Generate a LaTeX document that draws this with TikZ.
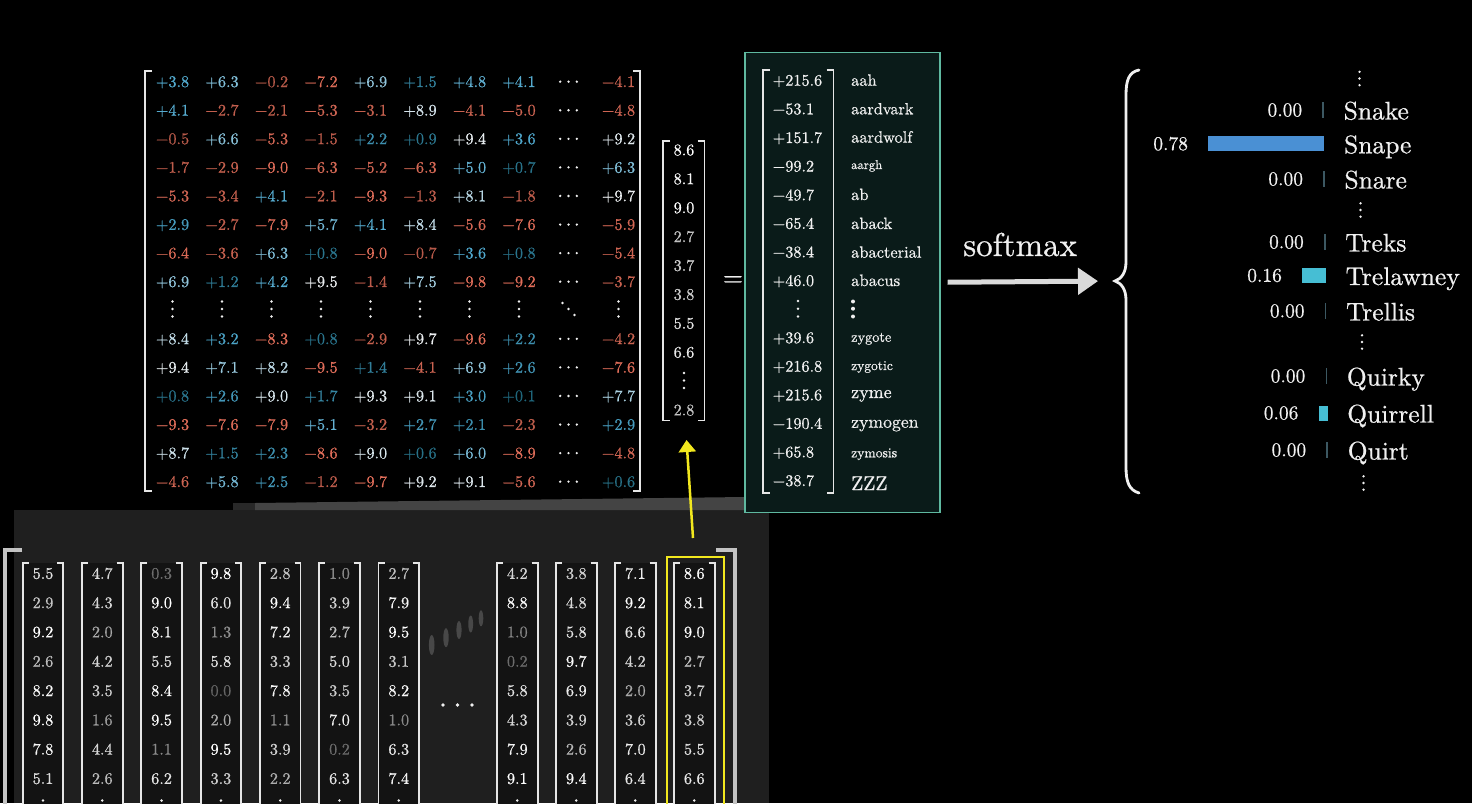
\documentclass[tikz,border=0pt]{standalone}
\usepackage{fontspec}
\setmainfont{lmroman10-regular}[Extension=.otf, FakeBold=0.7]
\usetikzlibrary{arrows.meta}
\definecolor{pc0}{RGB}{30,100,120}
\definecolor{pc1}{RGB}{80,168,205}
\definecolor{pc2}{RGB}{235,238,240}
\definecolor{negc}{RGB}{225,110,90}
\definecolor{brk}{RGB}{230,230,230}
\definecolor{txt}{RGB}{240,240,240}
\definecolor{boxedge}{RGB}{95,185,160}
\definecolor{boxfill}{RGB}{10,27,25}
\definecolor{snapec}{RGB}{74,144,212}
\definecolor{cyanbar}{RGB}{70,190,212}
\definecolor{tickc}{RGB}{60,88,98}
\definecolor{panelc}{RGB}{31,31,31}
\definecolor{colbg}{RGB}{19,19,19}
\definecolor{bandc}{RGB}{68,68,68}
\definecolor{bandd}{RGB}{40,40,40}
\definecolor{outerbr}{RGB}{195,195,195}
\definecolor{ghost}{RGB}{72,72,72}
\definecolor{yel}{RGB}{242,232,30}
\definecolor{arrowc}{RGB}{218,218,218}
\newcommand\entcol[1]{%
  \pgfmathsetmacro\vv{0#1}%
  \ifdim\vv pt<0pt
    \pgfmathtruncatemacro\pp{min(100,80+2.5*abs(\vv))}%
    \colorlet{cc}{negc!\pp!black}%
  \else
    \ifdim\vv pt<3.5pt
      \pgfmathtruncatemacro\pp{100*\vv/3.5}%
      \colorlet{cc}{pc1!\pp!pc0}%
    \else
      \pgfmathtruncatemacro\pp{100*(min(1,(\vv-3.5)/6))^1.5}%
      \colorlet{cc}{pc2!\pp!pc1}%
    \fi
  \fi}
\newcommand\graycol[1]{%
  \pgfmathtruncatemacro\pp{(#1)<3 ? 40+13*(#1) : min(100,79+3.6*((#1)-3))}%
  \colorlet{cc}{white!\pp!black}}
\def\sgnaux#1#2\relax{\if#1-−\else#1\fi#2}
\newcommand\shownum[1]{\expandafter\sgnaux#1\relax}
\begin{document}
\begin{tikzpicture}[x=1pt,y=-1pt,
  num/.style={font=\fontsize{16.2}{19}\selectfont, inner sep=0pt, anchor=base},
  onum/.style={font=\fontsize{16.2}{19}\selectfont, inner sep=0pt, anchor=base west, text=txt},
  word/.style={inner sep=0pt, anchor=base west, text=txt},
  pnum/.style={font=\fontsize{19.5}{23}\selectfont, inner sep=0pt, anchor=base east, text=txt},
  pword/.style={font=\fontsize{25.5}{30}\selectfont, inner sep=0pt, anchor=base west, text=txt},
  brkline/.style={draw=brk, line width=1.8pt},
  dotf/.style={fill=txt}]
\useasboundingbox (0,0) rectangle (1472,803);
\fill[black] (0,0) rectangle (1472,803);
\clip (0,0) rectangle (1472,803);

% ---------- bottom panel (stack of columns) ----------
\fill[panelc] (14,510) rectangle (769,803);
\fill[bandd] (233,503) rectangle (745,510);
\fill[bandc] (255,503) -- (745,497) -- (745,510) -- (255,510) -- cycle;
\draw[outerbr, line width=4pt] (22,550) -| (5,810);
\draw[outerbr, line width=4pt] (716,550) -| (735,810);

\foreach \colvals [count=\k] in {
 {5.5,2.9,9.2,2.6,8.2,9.8,7.8,5.1},
 {4.7,4.3,2.0,4.2,3.5,1.6,4.4,2.6},
 {0.3,9.0,8.1,5.5,8.4,9.5,1.1,6.2},
 {9.8,6.0,1.3,5.8,0.0,2.0,9.5,3.3},
 {2.8,9.4,7.2,3.3,7.8,1.1,3.9,2.2},
 {1.0,3.9,2.7,5.0,3.5,7.0,0.2,6.3},
 {2.7,7.9,9.5,3.1,8.2,1.0,6.3,7.4},
 {4.2,8.8,1.0,0.2,5.8,4.3,7.9,9.1},
 {3.8,4.8,5.8,9.7,6.9,3.9,2.6,9.4},
 {7.1,9.2,6.6,4.2,2.0,3.6,7.0,6.4},
 {8.6,8.1,9.0,2.7,3.7,3.8,5.5,6.6}} {
  \pgfmathsetmacro\xl{\k<8 ? 22.7+59.3*(\k-1) : 497+59*(\k-8)}
  \pgfmathsetmacro\xr{\xl+40.6}
  \pgfmathsetmacro\xc{\xl+20.3}
  \fill[colbg] (\xl,563) rectangle (\xr,810);
  \draw[brkline] (\xl+6,563) -| (\xl,812);
  \draw[brkline] (\xr-6,563) -| (\xr,812);
  \foreach \v [count=\r] in \colvals {
    \node[num] (c-\k-\r) at (\xc,{573.5+29.3*(\r-1)+5.3}) {\graycol{\v}\color{cc}\v};
  }
  \foreach \dy in {-7.5,0,7.5} \fill[dotf] (\xc,808+\dy) circle[radius=1.4pt];
}
% yellow highlight around last column
\node[draw=yel, line width=2pt, inner sep=0pt, minimum width=57pt, minimum height=260pt, anchor=north west] (ybox) at (666,556) {};
% horizontal dots and ghost dots
\foreach \xx in {443,457.5,472} \fill[dotf] (\xx,705) circle[radius=1.8pt];
\fill[ghost] (431.7,645) ellipse[x radius=2.8pt, y radius=10pt];
\fill[ghost] (446,637.7) ellipse[x radius=2.7pt, y radius=9.5pt];
\fill[ghost] (459,630) ellipse[x radius=2.6pt, y radius=9pt];
\fill[ghost] (470.7,624) ellipse[x radius=2.4pt, y radius=8.5pt];
\fill[ghost] (481,618.3) ellipse[x radius=2.3pt, y radius=8pt];

% ---------- main matrix ----------
\draw[brkline] (152,71) -| (145,491) -- (152,491);
\draw[brkline] (633,71) -| (640,491) -- (633,491);
\foreach \rowvals [count=\i] in {
 {+3.8,+6.3,-0.2,-7.2,+6.9,+1.5,+4.8,+4.1,-4.1},
 {+4.1,-2.7,-2.1,-5.3,-3.1,+8.9,-4.1,-5.0,-4.8},
 {-0.5,+6.6,-5.3,-1.5,+2.2,+0.9,+9.4,+3.6,+9.2},
 {-1.7,-2.9,-9.0,-6.3,-5.2,-6.3,+5.0,+0.7,+6.3},
 {-5.3,-3.4,+4.1,-2.1,-9.3,-1.3,+8.1,-1.8,+9.7},
 {+2.9,-2.7,-7.9,+5.7,+4.1,+8.4,-5.6,-7.6,-5.9},
 {-6.4,-3.6,+6.3,+0.8,-9.0,-0.7,+3.6,+0.8,-5.4},
 {+6.9,+1.2,+4.2,+9.5,-1.4,+7.5,-9.8,-9.2,-3.7},
 {+8.4,+3.2,-8.3,+0.8,-2.9,+9.7,-9.6,+2.2,-4.2},
 {+9.4,+7.1,+8.2,-9.5,+1.4,-4.1,+6.9,+2.6,-7.6},
 {+0.8,+2.6,+9.0,+1.7,+9.3,+9.1,+3.0,+0.1,+7.7},
 {-9.3,-7.6,-7.9,+5.1,-3.2,+2.7,+2.1,-2.3,+2.9},
 {+8.7,+1.5,+2.3,-8.6,+9.0,+0.6,+6.0,-8.9,-4.8},
 {-4.6,+5.8,+2.5,-1.2,-9.7,+9.2,+9.1,-5.6,+0.6}} {
  \pgfmathtruncatemacro\rr{\i>8 ? \i+1 : \i}
  \pgfmathsetmacro\yc{81.7+28.57*(\rr-1)}
  \foreach \v [count=\j] in \rowvals {
    \pgfmathsetmacro\xx{\j<9 ? 172.5+49.5*(\j-1) : 618.5}
    \node[num] (m-\i-\j) at (\xx,\yc+5.3) {\entcol{\v}\color{cc}\shownum{\v}};
  }
  \foreach \dx in {-8.3,0,8.3} \fill[dotf] (568.5+\dx,\yc) circle[radius=1.3pt];
}
% vdots row
\foreach \xx in {172.5,222,271.5,321,370.5,420,469.5,519,618.5}
  \foreach \dy in {-7.5,0,7.5} \fill[dotf] (\xx,309+\dy) circle[radius=1.3pt];
\foreach \d in {-6,0,6} \fill[dotf] (568.5+\d,309+\d) circle[radius=1.3pt];

% ---------- vector ----------
\node[inner sep=0pt, minimum width=42pt, minimum height=280pt] (vec) at (684,281) {};
\draw[brkline] (670,141) -| (663,420.5) -- (670,420.5);
\draw[brkline] (697.5,141) -| (704.5,420.5) -- (697.5,420.5);
\foreach \v/\k in {8.6/1,8.1/2,9.0/3,2.7/4,3.7/5,3.8/6,5.5/7,6.6/8,2.8/10} {
  \node[num] (v-\k) at (684,{150+28.9*(\k-1)+5.3}) {\graycol{\v}\color{cc}\v};
}
\foreach \yy in {373,380.5,388} \fill[dotf] (684,\yy) circle[radius=1.3pt];

% equals
\node[inner sep=0pt, text=txt, font=\fontsize{26}{30}\selectfont] (eq) at (733,281) {=};

% ---------- output box ----------
\node[draw=boxedge, fill=boxfill, line width=1.6pt, inner sep=0pt, minimum width=195pt, minimum height=460pt, anchor=north west] (outbox) at (744,51.5) {};
\draw[brkline] (770,70) -| (763,493) -- (770,493);
\draw[brkline] (826.5,70) -| (833.5,493) -- (826.5,493);
\foreach \n/\yb [count=\k] in {+215.6/85.7,-53.1/114.3,+151.7/143,-99.2/171.5,-49.7/200.3,-65.4/228.8,-38.4/257.4,+46.0/286,+39.6/343.1,+216.8/371.7,+215.6/400.3,-190.4/428.8,+65.8/457.4,-38.7/486}
  \node[onum] (o-\k) at (772.5,\yb) {\shownum{\n}};
\foreach \yy in {301,308.7,316.5} \fill[dotf] (798,\yy) circle[radius=1.4pt];
\foreach \w/\yb/\fs in {aah/85.7/16.4,aardvark/114.3/16.2,aardwolf/142.6/16.4,aargh/169/12.7,ab/200/16.4,aback/229/16.4,abacterial/257.7/16.4,abacus/286/16.6,zygote/341.7/14.3,zygotic/370/13.5,zyme/398/18,zymogen/427.7/17.7,zymosis/457.3/13.6,ZZZ/490/19.8}
  \node[word, font={\fontsize{\fs}{\fs}\selectfont}] (w-\w) at (851,\yb) {\w};
\foreach \yy in {301.5,308.7,316.5} \fill[dotf] (853,\yy) circle[radius=2pt];

% ---------- softmax arrow ----------
\node[inner sep=0pt, anchor=base west, text=txt, font=\fontsize{33}{38}\selectfont] (smx) at (963,256) {softmax};
\coordinate (bracetip) at (1115,281);
\draw[arrowc, line width=5pt, shorten <=7pt, shorten >=17pt, -{Triangle[length=20pt,width=26pt]}] (outbox.east) -- (bracetip);

% ---------- brace ----------
\draw[txt, line width=2.8pt, line cap=round] (1139,70) .. controls (1129,72) and (1126,80) .. (1126,95) -- (1126,262) .. controls (1126,273) and (1121,279) .. (bracetip) .. controls (1121,283) and (1126,289) .. (1126,300) -- (1126,467) .. controls (1126,482) and (1129,490) .. (1139,493);

% ---------- probabilities ----------
\foreach \w/\p/\cy in {Snake/0.00/110,Snape/0.78/143.8,Snare/0.00/179,Treks/0.00/242,Trelawney/0.16/275.5,Trellis/0.00/311,Quirky/0.00/376,Quirrell/0.06/413,Quirt/0.00/450} {
  \pgfmathsetmacro\R{1324+(\cy-110)*0.0118}
  \pgfmathsetmacro\L{\R-max(1.6,149*\p)}
  \ifdim\p pt>0.5pt \colorlet{barc}{snapec}\else\ifdim\p pt>0.001pt \colorlet{barc}{cyanbar}\else\colorlet{barc}{tickc}\fi\fi
  \pgfmathsetmacro\hh{\p>0.001 ? 7.5 : 8}
  \fill[barc] (\L,\cy-\hh) rectangle (\R,\cy+\hh);
  \node[pnum] (pn-\w) at (\L-20,\cy+6.3) {\p};
  \node[pword] (pw-\w) at (\R+19.5,\cy+9.5) {\w};
}
\foreach \xx/\yy in {1359.5/78.5,1360.5/210,1362/342,1363.5/483}
  \foreach \dy in {-6.7,0,6.7} \fill[dotf] (\xx,\yy+\dy) circle[radius=1.3pt];

% ---------- yellow arrow ----------
\coordinate (ytail) at (693,538);
\coordinate (yhead) at (686.5,440);
\draw[yel, line width=2.5pt, -{Triangle[length=12pt,width=17pt]}] (ytail) -- (yhead);
\end{tikzpicture}
\end{document}
